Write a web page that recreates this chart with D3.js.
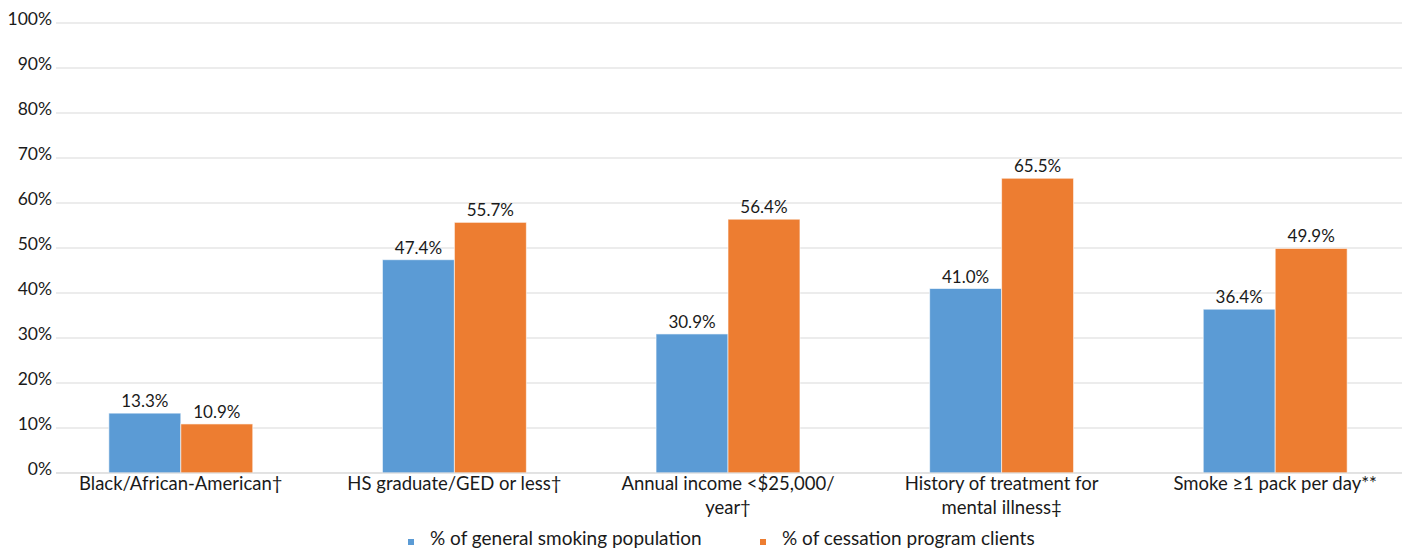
<!DOCTYPE html>
<html>
<head>
<meta charset="utf-8">
<script src="https://cdn.jsdelivr.net/npm/d3@7"></script>
<style>
  html, body { margin: 0; padding: 0; background: #fff; }
  svg { display: block; font-family: Lato, "Open Sans", sans-serif; }
</style>
</head>
<body>
<svg id="chart" width="1402" height="550"></svg>
<script>
// Category labels, one entry per wrapped line
const categories = [
  ["Black/African-American\u2020"],
  ["HS graduate/GED or less\u2020"],
  ["Annual income <$25,000/", "year\u2020"],
  ["History of treatment for", "mental illness\u2021"],
  ["Smoke \u22651 pack per day**"]
];
const seriesNames = ["% of general smoking population", "% of cessation program clients"];
const generalPopulation = [13.3, 47.4, 30.9, 41.0, 36.4];
const cessationClients = [10.9, 55.7, 56.4, 65.5, 49.9];
const yTicks = [0, 10, 20, 30, 40, 50, 60, 70, 80, 90, 100];
const colors = ["#5B9BD5", "#ED7D31"];

const svg = d3.select("#chart");
const gridLeft = 56, gridRight = 1402;
const yTop = 23, yBottom = 473;

const x = d3.scaleBand()
  .domain(d3.range(categories.length))
  .range([44, 1412])
  .paddingInner(0.474)
  .paddingOuter(0.237);

const xSeries = d3.scaleBand()
  .domain(d3.range(seriesNames.length))
  .range([0, x.bandwidth()]);

const y = d3.scaleLinear().domain([0, 100]).range([yBottom, yTop]);

// Horizontal gridlines
svg.append("g")
  .selectAll("line")
  .data(yTicks)
  .join("line")
  .attr("x1", gridLeft).attr("x2", gridRight)
  .attr("y1", d => y(d)).attr("y2", d => y(d))
  .attr("stroke", "#d9d9d9").attr("stroke-width", 1);

// Y tick labels
svg.append("g")
  .selectAll("text")
  .data(yTicks)
  .join("text")
  .attr("x", 52)
  .attr("y", d => y(d) + 2)
  .attr("text-anchor", "end")
  .attr("font-size", 17.5)
  .attr("fill", "#1a1a1a")
  .text(d => d + "%");

// Bars
const rows = categories.map((c, i) => [generalPopulation[i], cessationClients[i]]);
const groups = svg.append("g")
  .selectAll("g")
  .data(rows)
  .join("g")
  .attr("transform", (d, i) => `translate(${x(i)},0)`);

groups.selectAll("rect")
  .data(d => d.map((v, s) => ({ v, s })))
  .join("rect")
  .attr("x", d => xSeries(d.s))
  .attr("width", xSeries.bandwidth())
  .attr("y", d => y(d.v))
  .attr("height", d => y(0) - y(d.v))
  .attr("fill", d => colors[d.s])
  .attr("stroke", "#ffffff")
  .attr("stroke-opacity", 0.6)
  .attr("stroke-width", 1);

// Value labels
groups.selectAll("text")
  .data(d => d.map((v, s) => ({ v, s })))
  .join("text")
  .attr("x", d => xSeries(d.s) + xSeries.bandwidth() / 2)
  .attr("y", d => y(d.v) - 6)
  .attr("text-anchor", "middle")
  .attr("font-size", 17)
  .attr("fill", "#1a1a1a")
  .text(d => d.v.toFixed(1) + "%");

// Baseline
svg.append("line")
  .attr("x1", gridLeft).attr("x2", gridRight)
  .attr("y1", y(0)).attr("y2", y(0))
  .attr("stroke", "#d9d9d9");

// Category labels
svg.append("g")
  .selectAll("text")
  .data(categories)
  .join("text")
  .attr("x", (d, i) => x(i) + x.bandwidth() / 2)
  .attr("y", 490)
  .attr("text-anchor", "middle")
  .attr("font-size", 18.5)
  .attr("fill", "#1a1a1a")
  .selectAll("tspan")
  .data(d => d)
  .join("tspan")
  .attr("x", function () { return this.parentNode.getAttribute("x"); })
  .attr("dy", (d, j) => j === 0 ? 0 : 24)
  .text(d => d);

// Legend
const legendX = [408, 760];
const legend = svg.append("g")
  .selectAll("g")
  .data(seriesNames)
  .join("g")
  .attr("transform", (d, i) => `translate(${legendX[i]},0)`);
legend.append("rect")
  .attr("x", 0).attr("y", 539)
  .attr("width", 6).attr("height", 6)
  .attr("fill", (d, i) => colors[i]);
legend.append("text")
  .attr("x", 22).attr("y", 545)
  .attr("font-size", 19)
  .attr("fill", "#1a1a1a")
  .text(d => d);
</script>
</body>
</html>
